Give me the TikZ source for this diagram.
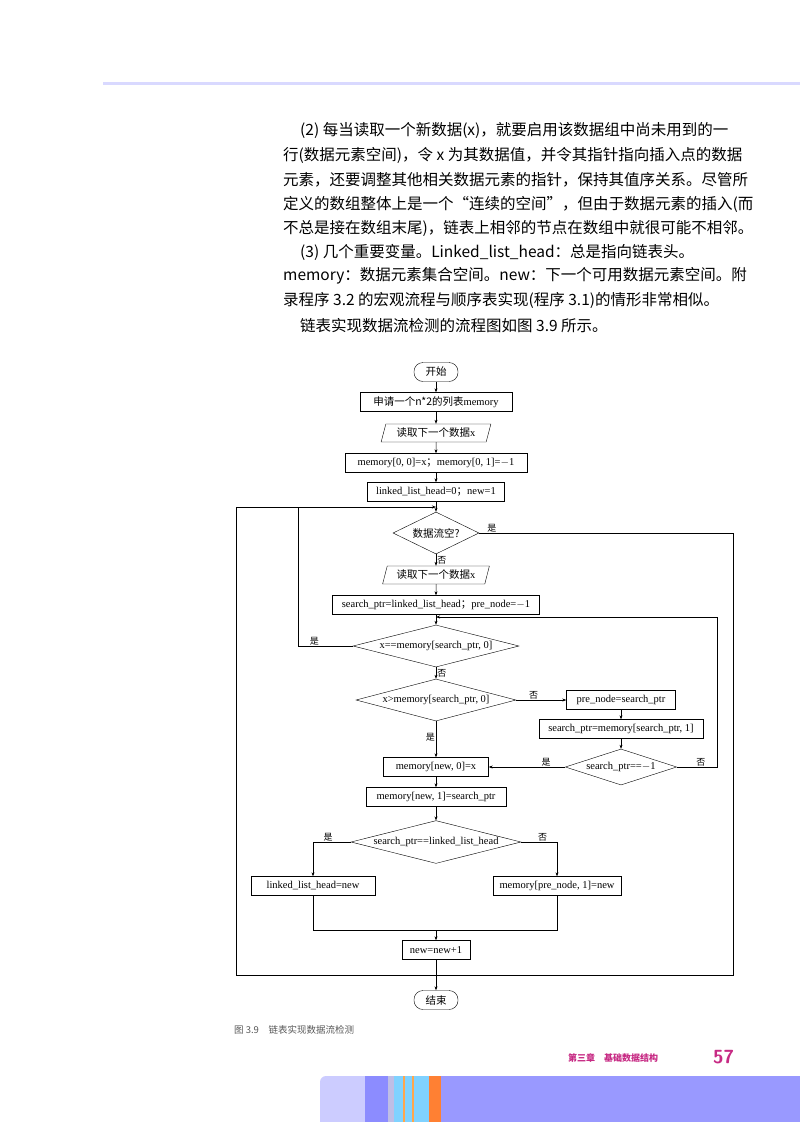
\documentclass[tikz,border=0pt]{standalone}
\usepackage{fontspec}
\setmainfont{Liberation Serif}
\newfontfamily\cjk{Noto Sans CJK SC}
\usetikzlibrary{shapes.geometric,arrows.meta}
\begin{document}
\begin{tikzpicture}[x=1pt,y=-1pt,
  every node/.style={font=\fontsize{10.5}{12}\selectfont, inner sep=1pt},
  bx/.style={draw, minimum height=19pt, inner xsep=4pt},
  io/.style={draw, trapezium, trapezium left angle=72, trapezium right angle=108, trapezium stretches=true, minimum height=18pt, inner xsep=1pt},
  dm/.style={draw, diamond, aspect=3.9, inner sep=0.5pt},
  term/.style={draw, rounded corners=9pt, minimum height=19pt, minimum width=44pt},
  ln/.style={line width=0.5pt},
  ar/.style={ln,-{Stealth[length=4pt,width=3pt]}},
  lb/.style={font=\cjk\fontsize{9}{10}\selectfont},
  body/.style={anchor=west, font=\cjk\fontsize{15.5}{16}\selectfont, inner sep=0pt}]
\useasboundingbox (0,0) rectangle (800,1122);
\fill[white] (0,0) rectangle (800,1122);
\fill[blue!15] (103,82) rectangle (800,85);
% body text
\node[body] (p1) at (300,130) {(2) 每当读取一个新数据(x)，就要启用该数据组中尚未用到的一};
\node[body] (p2) at (283,155) {行(数据元素空间)，令 x 为其数据值，并令其指针指向插入点的数据};
\node[body] (p3) at (283,180) {元素，还要调整其他相关数据元素的指针，保持其值序关系。尽管所};
\node[body] (p4) at (283,204) {定义的数组整体上是一个“连续的空间”，但由于数据元素的插入(而};
\node[body] (p5) at (283,228) {不总是接在数组末尾)，链表上相邻的节点在数组中就很可能不相邻。};
\node[body] (p6) at (300,252) {(3) 几个重要变量。Linked\_list\_head：总是指向链表头。};
\node[body] (p7) at (283,276) {memory：数据元素集合空间。new：下一个可用数据元素空间。附};
\node[body] (p8) at (283,300) {录程序 3.2 的宏观流程与顺序表实现(程序 3.1)的情形非常相似。};
\node[body] (p9) at (300,326) {链表实现数据流检测的流程图如图 3.9 所示。};
% flowchart
\node[term] (start) at (436,372) {\cjk 开始};
\node[bx, minimum width=152pt] (b1) at (436,402) {\cjk 申请一个n*2的列表\rmfamily memory};
\node[io, minimum width=110pt] (r1) at (436,433) {\cjk 读取下一个数据\rmfamily x};
\node[bx, minimum width=182pt] (b2) at (436,463) {memory[0, 0]=x{\cjk ；}memory[0, 1]=$-$1};
\node[bx, minimum width=137pt] (b3) at (436,492) {linked\_list\_head=0{\cjk ；}new=1};
\coordinate (j1) at (436,507);
\node[dm, minimum width=86pt, minimum height=42pt, aspect=2] (d1) at (436,533) {\cjk 数据流空?};
\node[io, minimum width=107pt] (r2) at (436,575) {\cjk 读取下一个数据\rmfamily x};
\node[bx, minimum width=207pt] (b4) at (436,605) {search\_ptr=linked\_list\_head{\cjk ；}pre\_node=$-$1};
\coordinate (j2) at (436,617);
\node[dm, minimum width=166pt, minimum height=42pt] (d2) at (436,646) {x==memory[search\_ptr, 0]};
\node[dm, minimum width=160pt, minimum height=42pt] (d3) at (436,700) {x>memory[search\_ptr, 0]};
\node[bx, minimum width=109pt] (b5) at (621,700) {pre\_node=search\_ptr};
\node[bx, minimum width=164pt] (b6) at (621,729) {search\_ptr=memory[search\_ptr, 1]};
\node[dm, minimum width=110pt, minimum height=36pt] (d4) at (621,767) {search\_ptr==$-$1};
\node[bx, minimum width=105pt] (b7) at (436,767) {memory[new, 0]=x};
\node[bx, minimum width=140pt] (b8) at (436,797) {memory[new, 1]=search\_ptr};
\node[dm, minimum width=170pt, minimum height=40pt] (d5) at (436,842) {search\_ptr==linked\_list\_head};
\node[bx, minimum width=124pt] (b9) at (313,886) {linked\_list\_head=new};
\node[bx, minimum width=128pt] (b10) at (557,886) {memory[pre\_node, 1]=new};
\coordinate (j3) at (436,930);
\node[bx, minimum width=68pt] (b11) at (436,950) {new=new+1};
\coordinate (j4) at (436,975);
\node[term] (end) at (436,1000) {\cjk 结束};
% connectors
\draw[ar] (start) -- (b1);
\draw[ar] (b1) -- (r1);
\draw[ar] (r1) -- (b2);
\draw[ar] (b2) -- (b3);
\draw[ar] (b3) -- (d1);
\draw[ar] (d1) -- node[right,lb]{否} (r2);
\draw[ar] (r2) -- (b4);
\draw[ar] (b4) -- (d2);
\draw[ar] (d2) -- node[right,lb]{否} (d3);
\draw[ar] (d3) -- node[above,lb,pos=0.35]{否} (b5);
\draw[ar] (b5) -- (b6);
\draw[ar] (b6) -- (d4);
\draw[ar] (d4) -- node[above,lb,pos=0.25]{是} (b7);
\draw[ar] (d3) -- node[left,lb,pos=0.45]{是} (b7);
\draw[ar] (b7) -- (b8);
\draw[ar] (b8) -- (d5);
\draw[ln] (d4.east) -- node[above,lb,pos=0.6]{否} (717,767) -- (717,617);
\draw[ar] (717,617) -- (j2);
\draw[ln] (d2.west) -- node[above,lb,pos=0.7]{是} (298,646) -- (298,507);
\draw[ln] (d1.east) -- node[above,lb,pos=0.05]{是} (733,533) -- (733,975) -- (j4);
\draw[ln] (j4) -- (236,975) -- (236,507) -- (298,507);
\draw[ar] (298,507) -- (j1);
\draw[ar] (d5.west) -- node[above,lb,pos=0.6]{是} (313,842) -- (b9);
\draw[ar] (d5.east) -- node[above,lb,pos=0.6]{否} (557,842) -- (b10);
\draw[ln] (b9) -- (313,930) -- (j3);
\draw[ln] (b10) -- (557,930) -- (j3);
\draw[ar] (j3) -- (b11);
\draw[ln] (b11) -- (j4);
\draw[ar] (j4) -- (end);
% caption and footer
\node[anchor=west, font=\cjk\fontsize{9.5}{10}\selectfont, text=black!65] (cap) at (233,1030) {图 3.9\quad 链表实现数据流检测};
\node[anchor=west, font=\cjk\bfseries\fontsize{9}{10}\selectfont, text=magenta!80!black] (ft) at (567,1058) {第三章\quad 基础数据结构};
\node[anchor=west, font=\sffamily\bfseries\fontsize{19}{20}\selectfont, text=magenta!80!black] (pg) at (712,1057) {57};
\fill[blue!20!white, rounded corners=6pt] (320,1076) rectangle (380,1130);
\fill[blue!20!white] (330,1076) rectangle (365,1122);
\fill[blue!45!white] (365,1076) rectangle (388,1122);
\fill[cyan!20!blue!25] (388,1076) rectangle (394,1122);
\fill[blue!35!cyan!50!white] (394,1076) rectangle (429,1122);
\fill[orange!70!white] (403,1076) rectangle (405,1122);
\fill[orange!70!white] (412,1076) rectangle (414,1122);
\fill[orange!75!red!80!white] (429,1076) rectangle (441,1122);
\fill[blue!40!white] (441,1076) rectangle (800,1122);
\end{tikzpicture}
\end{document}
